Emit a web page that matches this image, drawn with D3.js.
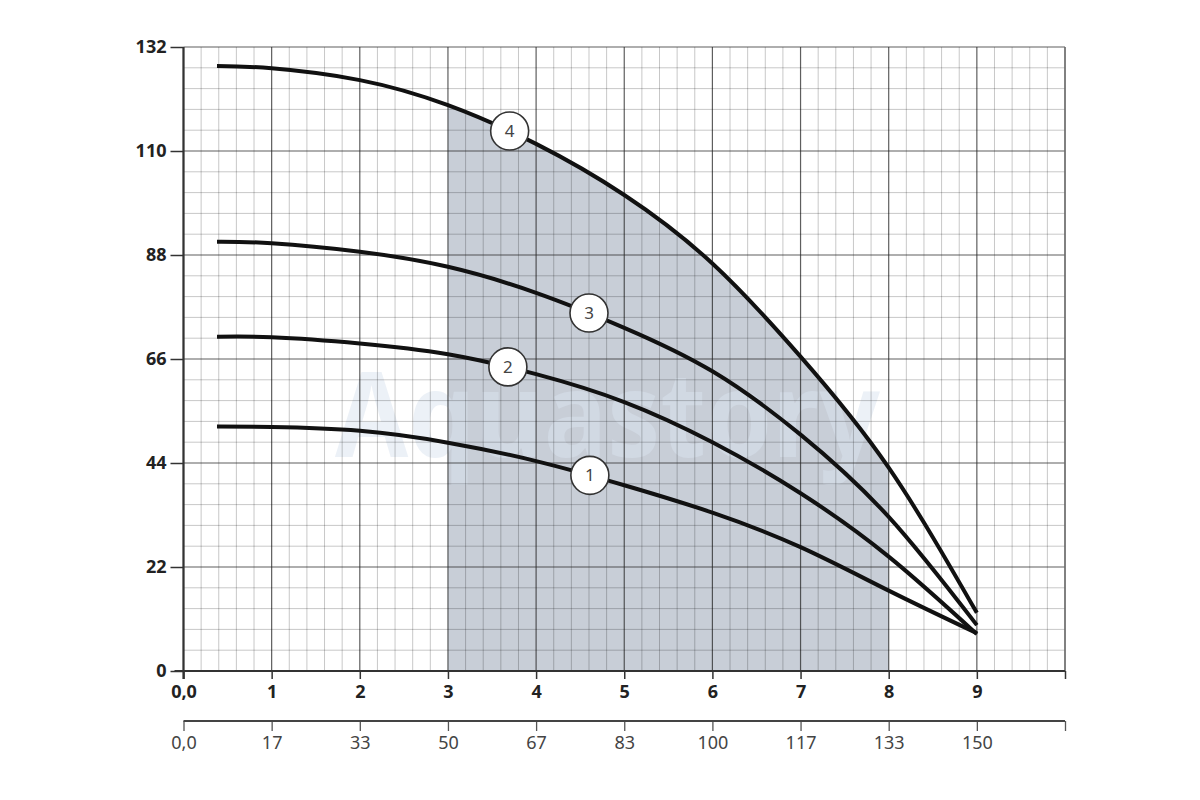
<!DOCTYPE html>
<html><head><meta charset="utf-8">
<script src="https://cdn.jsdelivr.net/npm/d3@7"></script>
<style>body{margin:0;background:#fff}svg{display:block}</style>
</head><body>
<svg id="chart" width="1200" height="800"></svg>
<script>
// ---- data ----
const flowX = [0.38, 1, 2, 3, 4, 5, 6, 7, 8, 9];           // top axis units (m3/h)
const curve1 = [51.7, 51.6, 50.8, 48.3, 44.4, 39.3, 33.5, 26.2, 17.0, 8.0];
const curve2 = [70.7, 70.6, 69.3, 67.0, 62.8, 56.9, 48.4, 37.6, 24.2, 7.8];
const curve3 = [90.8, 90.5, 88.7, 85.5, 80.0, 72.6, 63.4, 50.0, 32.6, 9.7];
const curve4 = [128.0, 127.5, 125.0, 119.7, 111.5, 100.7, 86.2, 66.5, 43.0, 12.3];
const curveNames = ["1", "2", "3", "4"];
const labelAt = [4.61, 3.68, 4.6, 3.7];                       // x position of numbered markers
const yTicks = [0, 22, 44, 66, 88, 110, 132];
const xTicks = [0, 1, 2, 3, 4, 5, 6, 7, 8, 9, 10];
const xTickLabels = ["0,0", "1", "2", "3", "4", "5", "6", "7", "8", "9", ""];
const x2TickLabels = ["0,0", "17", "33", "50", "67", "83", "100", "117", "133", "150", ""];
const workRange = [3, 8];
const watermark = "Aquastory";

// ---- layout ----
const svg = d3.select("#chart");
const x = d3.scaleLinear().domain([0, 10]).range([183.5, 1065]);
const y = d3.scaleLinear().domain([0, 132]).range([671, 47]);
const font = "'Noto Sans', 'Open Sans', sans-serif";
const curves = [curve1, curve2, curve3, curve4];
const lineGen = d3.line().x(d => x(d[0])).y(d => y(d[1])).curve(d3.curveNatural);

function yOnPath(node, px) {
  let lo = 0, hi = node.getTotalLength();
  for (let k = 0; k < 40; k++) {
    const mid = (lo + hi) / 2;
    if (node.getPointAtLength(mid).x < px) lo = mid; else hi = mid;
  }
  return node.getPointAtLength((lo + hi) / 2);
}

// shaded working range under curve 4
const tmp = svg.append("path").attr("d", lineGen(flowX.map((v, i) => [v, curve4[i]]))).attr("fill", "none");
const tmpNode = tmp.node();
const x0 = x(workRange[0]), x1 = x(workRange[1]);
const topPts = [];
for (let i = 0; i <= 120; i++) topPts.push(yOnPath(tmpNode, x0 + (x1 - x0) * i / 120));
tmp.remove();
let shadeD = `M${x0},${y(0)}`;
topPts.forEach(p => { shadeD += `L${p.x},${p.y}`; });
shadeD += `L${x1},${y(0)}Z`;
svg.append("path").attr("d", shadeD).attr("fill", "#c8ced7");

// watermark
svg.append("text").attr("x", 335).attr("y", 457)
  .attr("font-family", font).attr("font-weight", "bold").attr("font-size", 118)
  .attr("textLength", 545).attr("lengthAdjust", "spacingAndGlyphs")
  .attr("fill", "#dae4f0").attr("opacity", 0.5).text(watermark);

// grid
const grid = svg.append("g");
d3.range(0, 10.001, 0.2).forEach(v => {
  const major = Math.abs(v - Math.round(v)) < 1e-6;
  grid.append("line").attr("x1", x(v)).attr("x2", x(v)).attr("y1", y(0)).attr("y2", y(132))
    .attr("stroke", major ? "rgba(40,40,40,0.75)" : "rgba(0,0,0,0.22)").attr("stroke-width", major ? 1.2 : 1);
});
d3.range(0, 132.001, 4.4).forEach(v => {
  const major = Math.abs(v / 22 - Math.round(v / 22)) < 1e-6;
  grid.append("line").attr("x1", x(0)).attr("x2", x(10)).attr("y1", y(v)).attr("y2", y(v))
    .attr("stroke", major ? "rgba(40,40,40,0.75)" : "rgba(0,0,0,0.22)").attr("stroke-width", major ? 1.2 : 1);
});
svg.append("line").attr("x1", x(10)).attr("x2", x(10)).attr("y1", y(0)).attr("y2", y(132))
  .attr("stroke", "#777").attr("stroke-width", 1.5);

// y axis
const yAxis = svg.append("g").attr("transform", `translate(${x(0)},0)`)
  .call(d3.axisLeft(y).tickValues(yTicks).tickSize(13).tickSizeOuter(0).tickPadding(4));
yAxis.select(".domain").remove();
yAxis.selectAll("line").attr("stroke", "#333").attr("stroke-width", 1.5);
yAxis.selectAll("text").attr("font-family", font).attr("font-weight", "bold").attr("font-size", 18).attr("fill", "#222");
svg.append("line").attr("x1", x(0)).attr("x2", x(0)).attr("y1", y(132)).attr("y2", y(0) + 8)
  .attr("stroke", "#333").attr("stroke-width", 2.2);

// top x axis (m3/h)
const xAxis = svg.append("g").attr("transform", `translate(0,${y(0)})`)
  .call(d3.axisBottom(x).tickValues(xTicks).tickFormat((d, i) => xTickLabels[i]).tickSize(8).tickSizeOuter(0).tickPadding(6));
xAxis.select(".domain").remove();
xAxis.selectAll("line").attr("stroke", "#333").attr("stroke-width", 1.5);
xAxis.selectAll("text").attr("font-family", font).attr("font-weight", "bold").attr("font-size", 18).attr("fill", "#222");
svg.append("line").attr("x1", x(0) - 9).attr("x2", x(10)).attr("y1", y(0)).attr("y2", y(0))
  .attr("stroke", "#333").attr("stroke-width", 2.2);

// second x axis (l/min)
const x2Axis = svg.append("g").attr("transform", `translate(0,721)`)
  .call(d3.axisBottom(x).tickValues(xTicks).tickFormat((d, i) => x2TickLabels[i]).tickSize(10).tickSizeOuter(0).tickPadding(5));
x2Axis.select(".domain").remove();
x2Axis.selectAll("line").attr("stroke", "#555").attr("stroke-width", 1.3);
x2Axis.selectAll("text").attr("font-family", font).attr("font-size", 18).attr("fill", "#444");
svg.append("line").attr("x1", x(0)).attr("x2", x(10)).attr("y1", 721).attr("y2", 721)
  .attr("stroke", "#444").attr("stroke-width", 2.2);

// curves
const curveNodes = curves.map(c =>
  svg.append("path").datum(flowX.map((v, i) => [v, c[i]]))
    .attr("d", lineGen).attr("fill", "none").attr("stroke", "#111")
    .attr("stroke-width", 4).attr("stroke-linecap", "butt").node());

// numbered markers
curves.forEach((c, i) => {
  const p = yOnPath(curveNodes[i], x(labelAt[i]));
  const g = svg.append("g").attr("transform", `translate(${p.x},${p.y})`);
  g.append("circle").attr("r", 19).attr("fill", "#fff").attr("stroke", "#333").attr("stroke-width", 1.6);
  g.append("text").attr("text-anchor", "middle").attr("dy", "0.36em")
    .attr("font-family", font).attr("font-size", 17).attr("fill", "#444").text(curveNames[i]);
});
</script>
</body></html>
